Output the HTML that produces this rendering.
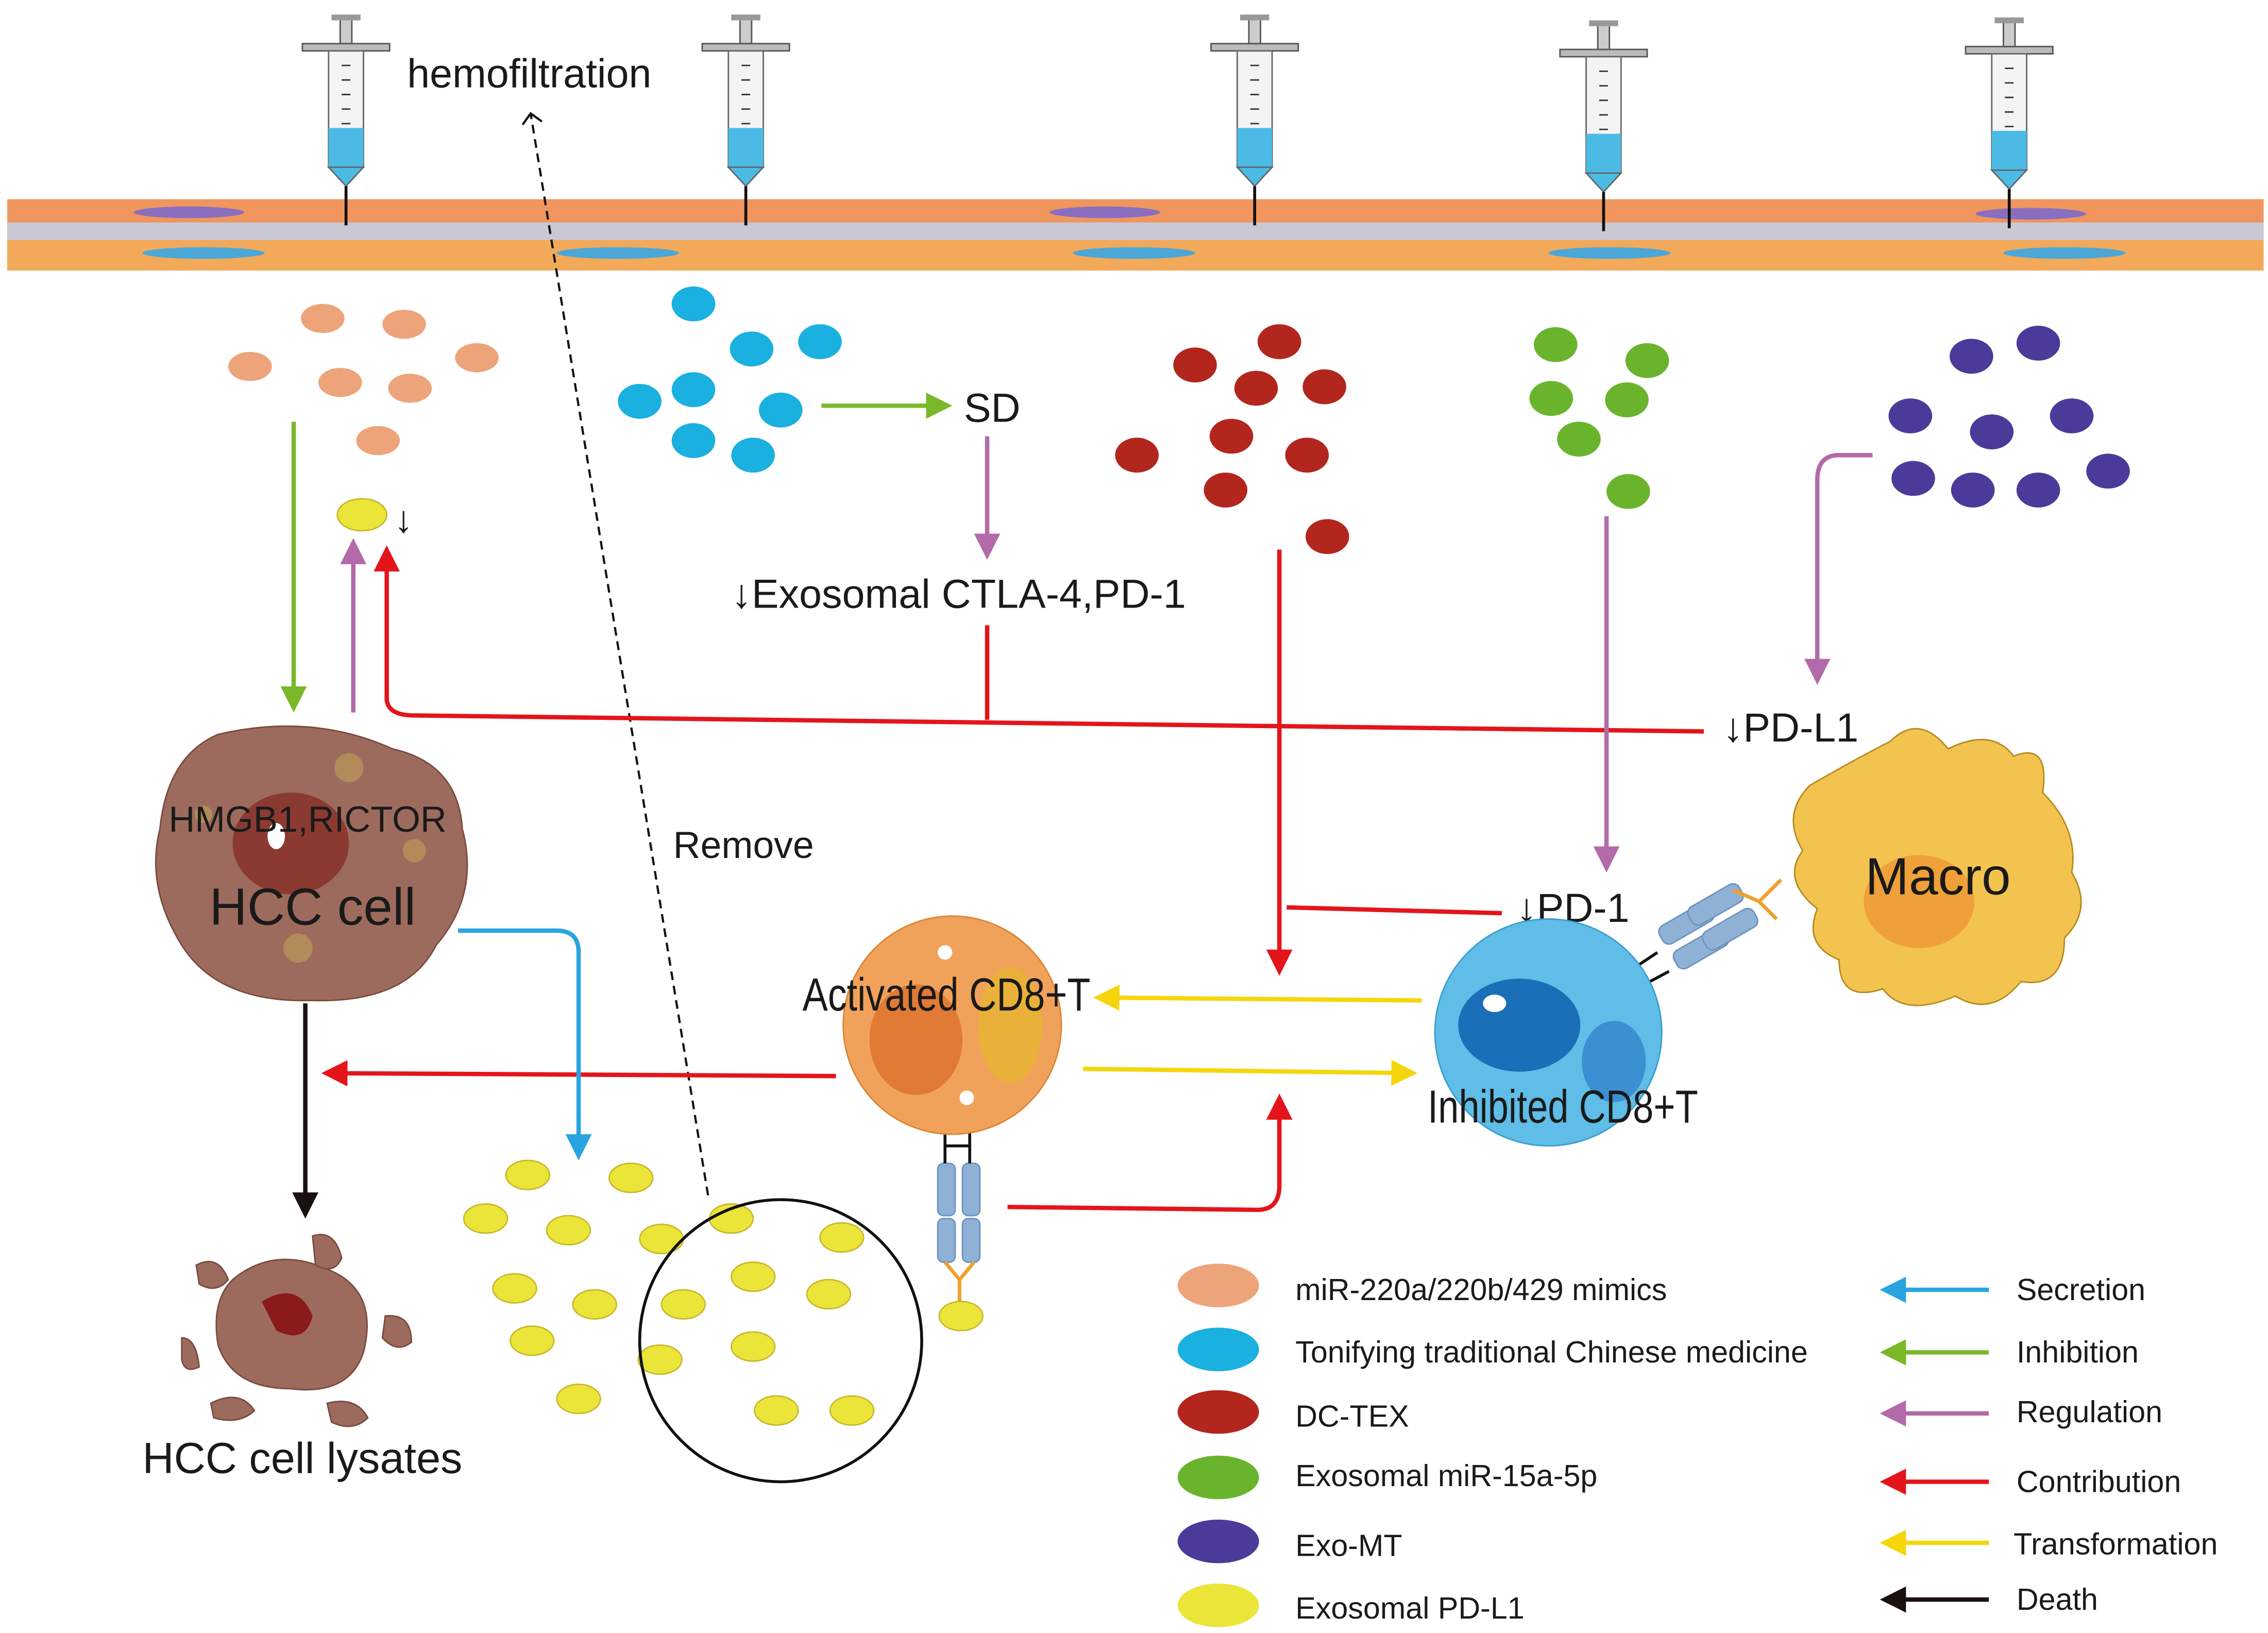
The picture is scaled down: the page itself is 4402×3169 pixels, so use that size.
<!DOCTYPE html>
<html><head><meta charset="utf-8"><style>
html,body{margin:0;padding:0;background:#fff}
svg{display:block}
text{font-family:"Liberation Sans","DejaVu Sans",sans-serif;fill:#1a1a1a}
</style></head><body>
<svg xmlns="http://www.w3.org/2000/svg" width="4402" height="3169" viewBox="0 0 1560 1123" preserveAspectRatio="none">
<defs>
<marker id="aG" markerWidth="6" markerHeight="6" refX="5" refY="3" orient="auto" markerUnits="strokeWidth"><path d="M0,0 L6,3 L0,6 Z" fill="#7ab829"/></marker>
<marker id="aP" markerWidth="6" markerHeight="6" refX="5" refY="3" orient="auto" markerUnits="strokeWidth"><path d="M0,0 L6,3 L0,6 Z" fill="#b36aa8"/></marker>
<marker id="aR" markerWidth="6" markerHeight="6" refX="5" refY="3" orient="auto" markerUnits="strokeWidth"><path d="M0,0 L6,3 L0,6 Z" fill="#e3151b"/></marker>
<marker id="aB" markerWidth="6" markerHeight="6" refX="5" refY="3" orient="auto" markerUnits="strokeWidth"><path d="M0,0 L6,3 L0,6 Z" fill="#2aa4e0"/></marker>
<marker id="aY" markerWidth="6" markerHeight="6" refX="5" refY="3" orient="auto" markerUnits="strokeWidth"><path d="M0,0 L6,3 L0,6 Z" fill="#f5d60c"/></marker>
<marker id="aK" markerWidth="6" markerHeight="6" refX="5" refY="3" orient="auto" markerUnits="strokeWidth"><path d="M0,0 L6,3 L0,6 Z" fill="#1a1010"/></marker>
<marker id="aD" markerWidth="14" markerHeight="14" refX="7" refY="7" orient="auto" markerUnits="userSpaceOnUse"><path d="M0,0 L7,7 L0,14" fill="none" stroke="#111" stroke-width="1.5"/></marker>
<g id="syr">
<rect x="-30" y="30" width="60" height="5" fill="#bbb" stroke="#555"/>
<rect x="-4" y="12" width="8" height="18" fill="#ccc" stroke="#555"/>
<rect x="-10" y="10" width="20" height="4" fill="#999"/>
<rect x="-12" y="35" width="24" height="80" fill="#f4f4f4" stroke="#666"/>
<rect x="-12" y="88" width="24" height="27" fill="#4bbbe6"/>
<path d="M-12,115 L0,128 L12,115Z" fill="#4bbbe6" stroke="#666"/>
<line x1="0" y1="128" x2="0" y2="155" stroke="#111" stroke-width="2"/>
<g stroke="#333" stroke-width="1"><line x1="-3" y1="45" x2="3" y2="45"/><line x1="-3" y1="55" x2="3" y2="55"/><line x1="-3" y1="65" x2="3" y2="65"/><line x1="-3" y1="75" x2="3" y2="75"/><line x1="-3" y1="85" x2="3" y2="85"/></g>
</g>
</defs>
<!-- vessel -->
<rect x="5" y="137" width="1552" height="49" fill="#f0955e"/>
<rect x="5" y="153" width="1552" height="12" fill="#c9c9d6"/>
<rect x="5" y="165" width="1552" height="21" fill="#f2aa5a"/>
<g fill="#8a6fc0"><ellipse cx="130" cy="146" rx="38" ry="4"/><ellipse cx="760" cy="146" rx="38" ry="4"/><ellipse cx="1397" cy="147" rx="38" ry="4"/></g>
<g fill="#4aa7d8"><ellipse cx="140" cy="174" rx="42" ry="4"/><ellipse cx="425" cy="174" rx="42" ry="4"/><ellipse cx="780" cy="174" rx="42" ry="4"/><ellipse cx="1107" cy="174" rx="42" ry="4"/><ellipse cx="1420" cy="174" rx="42" ry="4"/></g>
<use href="#syr" x="238"/><use href="#syr" x="513"/><use href="#syr" x="863"/><use href="#syr" x="1103" y="4"/><use href="#syr" x="1382" y="2"/>
<text x="280" y="60" font-size="28">hemofiltration</text>
<line x1="487" y1="822" x2="365" y2="78" stroke="#111" stroke-width="1.5" stroke-dasharray="6,4" marker-end="url(#aD)"/>
<text x="463" y="590" font-size="26">Remove</text>
<g fill="#eea47a"><ellipse cx="222" cy="219" rx="15" ry="10"/><ellipse cx="278" cy="223" rx="15" ry="10"/><ellipse cx="328" cy="246" rx="15" ry="10"/><ellipse cx="172" cy="252" rx="15" ry="10"/><ellipse cx="234" cy="263" rx="15" ry="10"/><ellipse cx="282" cy="267" rx="15" ry="10"/><ellipse cx="260" cy="303" rx="15" ry="10"/></g>
<g fill="#1ab0e0"><ellipse cx="477" cy="209" rx="15" ry="12"/><ellipse cx="564" cy="235" rx="15" ry="12"/><ellipse cx="517" cy="240" rx="15" ry="12"/><ellipse cx="440" cy="276" rx="15" ry="12"/><ellipse cx="477" cy="268" rx="15" ry="12"/><ellipse cx="537" cy="282" rx="15" ry="12"/><ellipse cx="477" cy="303" rx="15" ry="12"/><ellipse cx="518" cy="313" rx="15" ry="12"/></g>
<g fill="#b3261e"><ellipse cx="880" cy="235" rx="15" ry="12"/><ellipse cx="822" cy="251" rx="15" ry="12"/><ellipse cx="864" cy="267" rx="15" ry="12"/><ellipse cx="911" cy="266" rx="15" ry="12"/><ellipse cx="847" cy="300" rx="15" ry="12"/><ellipse cx="782" cy="313" rx="15" ry="12"/><ellipse cx="899" cy="313" rx="15" ry="12"/><ellipse cx="843" cy="337" rx="15" ry="12"/><ellipse cx="913" cy="369" rx="15" ry="12"/></g>
<g fill="#6ab42d"><ellipse cx="1070" cy="237" rx="15" ry="12"/><ellipse cx="1133" cy="248" rx="15" ry="12"/><ellipse cx="1067" cy="274" rx="15" ry="12"/><ellipse cx="1119" cy="275" rx="15" ry="12"/><ellipse cx="1086" cy="302" rx="15" ry="12"/><ellipse cx="1120" cy="338" rx="15" ry="12"/></g>
<g fill="#4b3a9a"><ellipse cx="1356" cy="245" rx="15" ry="12"/><ellipse cx="1402" cy="236" rx="15" ry="12"/><ellipse cx="1314" cy="286" rx="15" ry="12"/><ellipse cx="1370" cy="297" rx="15" ry="12"/><ellipse cx="1425" cy="286" rx="15" ry="12"/><ellipse cx="1316" cy="329" rx="15" ry="12"/><ellipse cx="1357" cy="337" rx="15" ry="12"/><ellipse cx="1402" cy="337" rx="15" ry="12"/><ellipse cx="1450" cy="324" rx="15" ry="12"/></g>
<line x1="565" y1="279" x2="652" y2="279" stroke="#7ab829" stroke-width="3" marker-end="url(#aG)"/>
<text x="663" y="290" font-size="28">SD</text>
<line x1="679" y1="300" x2="679" y2="382" stroke="#b36aa8" stroke-width="3" marker-end="url(#aP)"/>
<text x="503" y="418" font-size="28">↓Exosomal CTLA-4,PD-1</text>
<line x1="202" y1="290" x2="202" y2="487" stroke="#7ab829" stroke-width="3" marker-end="url(#aG)"/>
<line x1="243" y1="490" x2="243" y2="373" stroke="#b36aa8" stroke-width="3" marker-end="url(#aP)"/>
<ellipse cx="249" cy="354" rx="17" ry="11" fill="#ebe53a" stroke="#c8b82a"/>
<text x="271" y="366" font-size="26">↓</text>
<path d="M266,480 Q266,492 285,492 L1172,503" fill="none" stroke="#e3151b" stroke-width="3"/>
<line x1="266" y1="482" x2="266" y2="378" stroke="#e3151b" stroke-width="3" marker-end="url(#aR)"/>
<line x1="679" y1="430" x2="679" y2="495" stroke="#e3151b" stroke-width="3"/>
<text x="1185" y="510" font-size="28">↓PD-L1</text>
<path d="M1288,313 L1265,313 Q1250,313 1250,330 L1250,468" fill="none" stroke="#b36aa8" stroke-width="3" marker-end="url(#aP)"/>
<line x1="1105" y1="355" x2="1105" y2="597" stroke="#b36aa8" stroke-width="3" marker-end="url(#aP)"/>
<line x1="880" y1="378" x2="880" y2="668" stroke="#e3151b" stroke-width="3" marker-end="url(#aR)"/>
<line x1="885" y1="624" x2="1033" y2="628" stroke="#e3151b" stroke-width="3"/>
<text x="1043" y="634" font-size="28">↓PD-1</text>
<path d="M150,505 Q215,490 270,515 Q315,525 318,570 Q330,615 300,650 Q280,690 215,688 Q150,690 125,650 Q100,610 110,570 Q115,520 150,505Z" fill="#9d6b5d" stroke="#7a4a3e"/>
<ellipse cx="200" cy="580" rx="40" ry="35" fill="#8b3a32"/>
<ellipse cx="190" cy="575" rx="6" ry="9" fill="#fff"/>
<g fill="#b38a5a"><circle cx="240" cy="528" r="10"/><circle cx="205" cy="652" r="10"/><circle cx="285" cy="585" r="8"/><circle cx="140" cy="560" r="6"/></g>
<text x="116" y="572" font-size="25">HMGB1,RICTOR</text>
<text x="144" y="636" font-size="36">HCC cell</text>
<path d="M1245,540 Q1280,520 1300,510 Q1320,490 1340,515 Q1370,500 1385,520 Q1410,510 1405,545 Q1430,570 1425,600 Q1440,625 1420,645 Q1420,680 1390,675 Q1370,700 1345,685 Q1310,700 1295,680 Q1265,690 1265,660 Q1240,650 1250,625 Q1225,605 1240,585 Q1225,560 1245,540Z" fill="#f3c34f" stroke="#b58a20"/>
<ellipse cx="1320" cy="620" rx="38" ry="32" fill="#efa03a"/>
<text x="1283" y="615" font-size="36">Macro</text>
<g fill="#8fb1d6" stroke="#6d93bf">
<rect x="1140" y="628" width="40" height="14" rx="5" transform="rotate(-30 1160 635)"/>
<rect x="1160" y="615" width="40" height="14" rx="5" transform="rotate(-30 1180 622)"/>
<rect x="1150" y="645" width="40" height="14" rx="5" transform="rotate(-30 1170 652)"/>
<rect x="1170" y="632" width="40" height="14" rx="5" transform="rotate(-30 1190 639)"/>
<rect x="645" y="800" width="12" height="36" rx="4"/><rect x="662" y="800" width="12" height="36" rx="4"/>
<rect x="645" y="838" width="12" height="30" rx="4"/><rect x="662" y="838" width="12" height="30" rx="4"/>
</g>
<g stroke="#111" stroke-width="2" fill="none"><path d="M650,775 L650,800 M667,775 L667,800 M650,788 L667,788"/><path d="M1125,665 L1140,655 M1133,676 L1148,668"/></g>
<g stroke="#f0a030" stroke-width="2.5" fill="none"><path d="M1192,612 L1210,620 L1225,605 M1210,620 L1222,632"/><path d="M650,868 L660,880 L670,868 M660,880 L660,895"/></g>
<ellipse cx="661" cy="905" rx="15" ry="10" fill="#ebe53a" stroke="#c8b82a"/>
<circle cx="655" cy="705" r="75" fill="#f1a25a" stroke="#d98535"/>
<ellipse cx="630" cy="715" rx="32" ry="38" fill="#e07a35"/>
<ellipse cx="695" cy="705" rx="22" ry="40" fill="#e9b03a"/>
<circle cx="650" cy="655" r="5" fill="#fff"/><circle cx="665" cy="755" r="5" fill="#fff"/>
<text x="552" y="695" font-size="32" textLength="198" lengthAdjust="spacingAndGlyphs">Activated CD8+T</text>
<circle cx="1065" cy="710" r="78" fill="#5fbde7" stroke="#3a9ed0"/>
<ellipse cx="1045" cy="705" rx="42" ry="32" fill="#1a6fb8"/>
<ellipse cx="1110" cy="730" rx="22" ry="28" fill="#3c8fd0"/>
<ellipse cx="1028" cy="690" rx="8" ry="6" fill="#fff"/>
<text x="982" y="772" font-size="32" textLength="186" lengthAdjust="spacingAndGlyphs">Inhibited CD8+T</text>
<line x1="978" y1="688" x2="755" y2="686" stroke="#f5d60c" stroke-width="3" marker-end="url(#aY)"/>
<line x1="745" y1="735" x2="972" y2="738" stroke="#f5d60c" stroke-width="3" marker-end="url(#aY)"/>
<line x1="575" y1="740" x2="224" y2="738" stroke="#e3151b" stroke-width="3" marker-end="url(#aR)"/>
<path d="M315,640 L383,640 Q398,640 398,655 L398,795" fill="none" stroke="#2aa4e0" stroke-width="3" marker-end="url(#aB)"/>
<line x1="210" y1="690" x2="210" y2="835" stroke="#1a1010" stroke-width="3" marker-end="url(#aK)"/>
<path d="M693,830 L865,832 Q880,832 880,815 L880,755" fill="none" stroke="#e3151b" stroke-width="3" marker-end="url(#aR)"/>
<g fill="#9d6b5d" stroke="#7a4a3e">
<path d="M160,880 Q190,855 230,875 Q260,890 250,930 Q240,960 200,955 Q160,955 150,925 Q145,895 160,880Z"/>
<path d="M215,850 q15,-5 20,15 q-5,12 -18,5Z"/><path d="M135,870 q15,-8 22,10 q-8,10 -20,3Z"/>
<path d="M265,905 q18,-2 18,18 q-10,8 -20,-3Z"/><path d="M125,920 q10,0 12,20 q-10,5 -12,-5Z"/>
<path d="M145,965 q20,-10 30,5 q-10,10 -28,5Z"/><path d="M225,965 q20,-5 28,10 q-10,10 -25,3Z"/>
</g>
<path d="M180,895 Q205,880 215,905 Q210,925 190,915Z" fill="#8b1a1a"/>
<text x="98" y="1013" font-size="30">HCC cell lysates</text>
<g fill="#ebe53a" stroke="#c8b82a"><ellipse cx="363" cy="808" rx="15" ry="10"/><ellipse cx="434" cy="810" rx="15" ry="10"/><ellipse cx="334" cy="838" rx="15" ry="10"/><ellipse cx="391" cy="846" rx="15" ry="10"/><ellipse cx="455" cy="852" rx="15" ry="10"/><ellipse cx="354" cy="886" rx="15" ry="10"/><ellipse cx="409" cy="897" rx="15" ry="10"/><ellipse cx="366" cy="922" rx="15" ry="10"/><ellipse cx="398" cy="962" rx="15" ry="10"/><ellipse cx="503" cy="838" rx="15" ry="10"/><ellipse cx="579" cy="851" rx="15" ry="10"/><ellipse cx="518" cy="878" rx="15" ry="10"/><ellipse cx="570" cy="890" rx="15" ry="10"/><ellipse cx="470" cy="897" rx="15" ry="10"/><ellipse cx="518" cy="926" rx="15" ry="10"/><ellipse cx="454" cy="935" rx="15" ry="10"/><ellipse cx="534" cy="970" rx="15" ry="10"/><ellipse cx="586" cy="970" rx="15" ry="10"/></g>
<circle cx="537" cy="922" r="97" fill="none" stroke="#111" stroke-width="2"/>
<ellipse cx="838" cy="884" rx="28" ry="15" fill="#eea47a"/>
<ellipse cx="838" cy="928" rx="28" ry="15" fill="#1ab0e0"/>
<ellipse cx="838" cy="971" rx="28" ry="15" fill="#b3261e"/>
<ellipse cx="838" cy="1016" rx="28" ry="15" fill="#6ab42d"/>
<ellipse cx="838" cy="1060" rx="28" ry="15" fill="#4b3a9a"/>
<ellipse cx="838" cy="1104" rx="28" ry="15" fill="#ebe53a"/>
<g font-size="21">
<text x="891" y="894">miR-220a/220b/429 mimics</text>
<text x="891" y="937">Tonifying traditional Chinese medicine</text>
<text x="891" y="981">DC-TEX</text>
<text x="891" y="1022">Exosomal miR-15a-5p</text>
<text x="891" y="1070">Exo-MT</text>
<text x="891" y="1113">Exosomal PD-L1</text>
<text x="1387" y="894">Secretion</text>
<text x="1387" y="937">Inhibition</text>
<text x="1387" y="978">Regulation</text>
<text x="1387" y="1026">Contribution</text>
<text x="1385" y="1069">Transformation</text>
<text x="1387" y="1107">Death</text>
</g>
<line x1="1368" y1="887" x2="1296" y2="887" stroke="#2aa4e0" stroke-width="3" marker-end="url(#aB)"/>
<line x1="1368" y1="930" x2="1296" y2="930" stroke="#7ab829" stroke-width="3" marker-end="url(#aG)"/>
<line x1="1368" y1="972" x2="1296" y2="972" stroke="#b36aa8" stroke-width="3" marker-end="url(#aP)"/>
<line x1="1368" y1="1019" x2="1296" y2="1019" stroke="#e3151b" stroke-width="3" marker-end="url(#aR)"/>
<line x1="1368" y1="1061" x2="1296" y2="1061" stroke="#f5d60c" stroke-width="3" marker-end="url(#aY)"/>
<line x1="1368" y1="1100" x2="1296" y2="1100" stroke="#1a1010" stroke-width="3" marker-end="url(#aK)"/>
</svg>
</body></html>
